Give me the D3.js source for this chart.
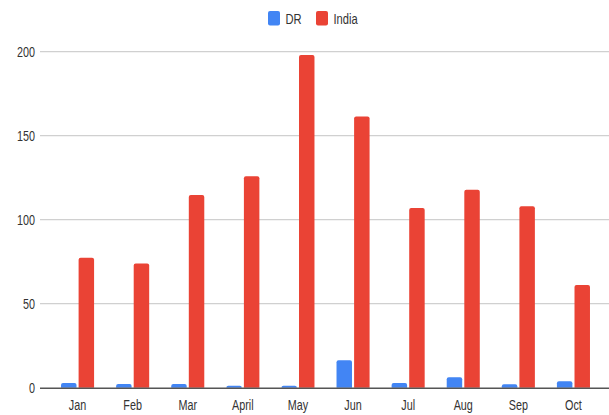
<!DOCTYPE html>
<html><head><meta charset="utf-8">
<script src="https://cdn.jsdelivr.net/npm/d3@7"></script>
<style>html,body{margin:0;padding:0;background:#fff;}svg{display:block;}</style>
</head><body>
<svg id="c" width="609" height="415"></svg>
<script>
const months = ["Jan","Feb","Mar","April","May","Jun","Jul","Aug","Sep","Oct"];
const seriesNames = ["DR","India"];
const drValues = [2.8,2.2,2.2,1.2,1.2,16.3,2.8,6.2,2.0,3.8];
const indiaValues = [77.4,74.0,114.7,125.8,198.0,161.5,107.0,117.9,108.0,61.1];
const yTicks = [0,50,100,150,200];
const colors = ["#4285F4","#EA4335"];

const svg = d3.select("#c");
const SX = 0.72, FS = 15;
const x0 = d3.scaleBand().domain(months).range([50,601]).paddingInner(0.4).paddingOuter(0.2);
const x1 = d3.scaleBand().domain(seriesNames).range([0,x0.bandwidth()]).paddingInner(0.12);
const y = d3.scaleLinear().domain([0,200]).range([387.7,51.7]);

// gridlines
const yAxis = d3.axisLeft(y).tickValues(yTicks).tickSize(0).tickPadding(0);
svg.append("g").selectAll("line").data(yTicks.filter(d=>d>0)).join("line")
  .attr("x1",40).attr("x2",609).attr("y1",d=>y(d)).attr("y2",d=>y(d))
  .attr("stroke","#d0d0d0").attr("stroke-width",1.2);

// y labels
svg.append("g").selectAll("text").data(yTicks).join("text")
  .attr("transform",d=>`translate(35,${y(d)+5.2}) scale(${SX},1)`)
  .attr("text-anchor","end").attr("font-family","Arial, 'Liberation Sans', sans-serif")
  .attr("font-size",FS).attr("fill","#333").text(d=>d);

// bars
function barPath(x,w,top,bottom,r){
  const h = bottom-top; r = Math.min(r,h,w/2);
  return `M${x},${bottom}V${top+r}Q${x},${top} ${x+r},${top}H${x+w-r}Q${x+w},${top} ${x+w},${top+r}V${bottom}Z`;
}
const rows = months.map((m,i)=>({m, vals:[drValues[i], indiaValues[i]]}));
const g = svg.append("g");
rows.forEach(r=>{
  r.vals.forEach((v,j)=>{
    const xx = x0(r.m)+x1(seriesNames[j]);
    g.append("path").attr("d",barPath(xx,x1.bandwidth(),y(v),y(0),2)).attr("fill",colors[j]);
  });
});

// baseline
svg.append("line").attr("x1",40).attr("x2",609).attr("y1",y(0)+0.5).attr("y2",y(0)+0.5)
  .attr("stroke","#555").attr("stroke-width",1.6);

// x labels
svg.append("g").selectAll("text").data(months).join("text")
  .attr("transform",d=>`translate(${x0(d)+x0.bandwidth()/2},410) scale(${SX},1)`)
  .attr("text-anchor","middle").attr("font-family","Arial, 'Liberation Sans', sans-serif")
  .attr("font-size",FS).attr("fill","#333").text(d=>d);

// legend
const legX = [268,316];
const lg = svg.append("g");
seriesNames.forEach((s,j)=>{
  lg.append("rect").attr("x",legX[j]).attr("y",11).attr("width",12).attr("height",14.5).attr("rx",2).attr("fill",colors[j]);
  lg.append("text").attr("transform",`translate(${legX[j]+17.5},24) scale(${SX},1)`)
    .attr("font-family","Arial, 'Liberation Sans', sans-serif").attr("font-size",FS+0.5).attr("fill","#333").text(s);
});
</script>
</body></html>
